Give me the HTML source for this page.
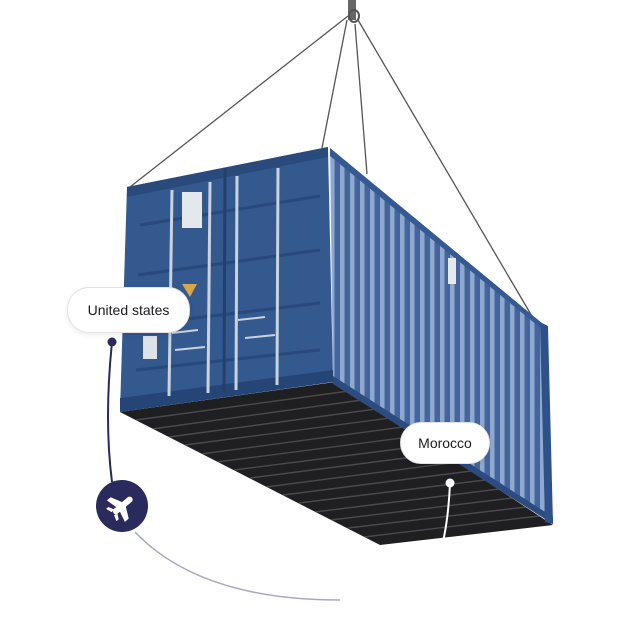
<!DOCTYPE html>
<html><head><meta charset="utf-8"><style>
html,body{margin:0;padding:0;background:#fff;width:632px;height:622px;overflow:hidden}
svg{position:absolute;left:0;top:0}
.pill{position:absolute;background:#fff;border:1px solid #e2e2e6;border-radius:22px;box-shadow:0 2px 6px rgba(0,0,0,.08);font-family:"Liberation Sans",sans-serif;font-size:14px;color:#1b1b1f;display:flex;align-items:center;justify-content:center}
</style></head><body>
<svg width="632" height="622" viewBox="0 0 632 622">
<defs>
<pattern id="rib" x="0" y="0" width="10" height="10" patternUnits="userSpaceOnUse">
<rect width="10" height="10" fill="#44649b"/><rect width="4.5" height="10" fill="#8ea9cf"/>
</pattern>
<clipPath id="under"><polygon points="120,412 335,382 553,525 380,545"/></clipPath>
</defs>
<g stroke="#555" stroke-width="1.3" fill="none">
<line x1="348" y1="16" x2="130" y2="187"/>
<line x1="347" y1="20" x2="322" y2="148"/>
<line x1="355" y1="24" x2="367" y2="174"/>
<line x1="358" y1="20" x2="533" y2="318"/>
</g>
<rect x="348" y="0" width="8" height="20" fill="#666"/>
<ellipse cx="354" cy="16" rx="5" ry="6" fill="none" stroke="#555" stroke-width="2"/>
<polygon points="120,412 335,382 553,525 380,545" fill="#1f1f22"/>
<g clip-path="url(#under)" stroke="#4a4a4e" stroke-width="1.4">
<line x1="136" y1="420" x2="349" y2="391"/><line x1="152" y1="429" x2="362" y2="400"/>
<line x1="169" y1="437" x2="376" y2="409"/><line x1="185" y1="445" x2="390" y2="418"/>
<line x1="201" y1="454" x2="403" y2="427"/><line x1="217" y1="462" x2="417" y2="436"/>
<line x1="234" y1="470" x2="430" y2="445"/><line x1="250" y1="478" x2="444" y2="453"/>
<line x1="266" y1="487" x2="458" y2="462"/><line x1="283" y1="495" x2="471" y2="471"/>
<line x1="299" y1="503" x2="485" y2="480"/><line x1="315" y1="512" x2="499" y2="489"/>
<line x1="331" y1="520" x2="512" y2="498"/><line x1="348" y1="528" x2="526" y2="507"/>
<line x1="364" y1="537" x2="539" y2="516"/>
</g>
<polygon points="330,148 543,324 553,524 333,382" fill="url(#rib)"/>
<polygon points="330,148 543,324 543,330 330,156" fill="#355a92"/>
<polygon points="333,376 553,517 553,524 333,384" fill="#2c4c80"/>
<polygon points="540,322 548,326 553,524 545,522" fill="#2f5189"/>
<rect x="448" y="258" width="8" height="26" fill="#e6e8ec"/>
<polygon points="127,187 328,147 333,380 120,410" fill="#33598f"/>
<polygon points="127,187 328,147 328,157 127,197" fill="#2a4a7c"/>
<polygon points="120,398 333,370 333,382 120,412" fill="#264577"/>
<g stroke="#27497c" stroke-width="3">
<line x1="140" y1="225" x2="320" y2="196"/><line x1="138" y1="275" x2="320" y2="250"/>
<line x1="137" y1="325" x2="320" y2="303"/><line x1="136" y1="370" x2="320" y2="350"/>
</g>
<line x1="225" y1="168" x2="224" y2="392" stroke="#233f6d" stroke-width="3"/>
<g stroke="#c9d2de" stroke-width="3">
<line x1="172" y1="190" x2="169" y2="396"/><line x1="210" y1="182" x2="208" y2="393"/>
<line x1="237" y1="176" x2="236" y2="390"/><line x1="278" y1="168" x2="277" y2="385"/>
</g>
<g stroke="#c9d2de" stroke-width="2">
<line x1="172" y1="333" x2="198" y2="330"/><line x1="175" y1="350" x2="205" y2="347"/>
<line x1="238" y1="320" x2="265" y2="317"/><line x1="245" y1="338" x2="275" y2="335"/>
</g>
<rect x="182" y="192" width="20" height="36" fill="#e4e7ec"/>
<rect x="143" y="336" width="14" height="23" fill="#dde2e8"/>
<polygon points="182,284 197,284 190,297" fill="#d9a64c"/>
<path d="M112 342 Q104 420 112 482" stroke="#2b2a5c" stroke-width="2" fill="none"/>
<circle cx="112" cy="342" r="4.5" fill="#2b2a5c"/>
<path d="M135 532 Q200 600 340 600" stroke="#a9a8c4" stroke-width="1.5" fill="none"/>
<circle cx="122" cy="506" r="26" fill="#2b2a5c"/>
<g transform="translate(122 506) rotate(-40)" fill="#fff">
<rect x="-11" y="-3" width="24" height="6" rx="3"/>
<polygon points="3,-2 -3,-14 -8,-14 -5,-2"/>
<polygon points="3,2 -3,14 -8,14 -5,2"/>
<polygon points="-8,-2 -11,-8 -14,-8 -12,-2"/>
<polygon points="-8,2 -11,8 -14,8 -12,2"/>
</g>
<path d="M450 483 Q448 530 438 560" stroke="#fff" stroke-width="2" fill="none"/>
<circle cx="450" cy="483" r="4.5" fill="#fff"/>
</svg>
<div class="pill" style="left:67px;top:287px;width:121px;height:44px">United states</div>
<div class="pill" style="left:400px;top:422px;width:88px;height:40px">Morocco</div>
</body></html>
